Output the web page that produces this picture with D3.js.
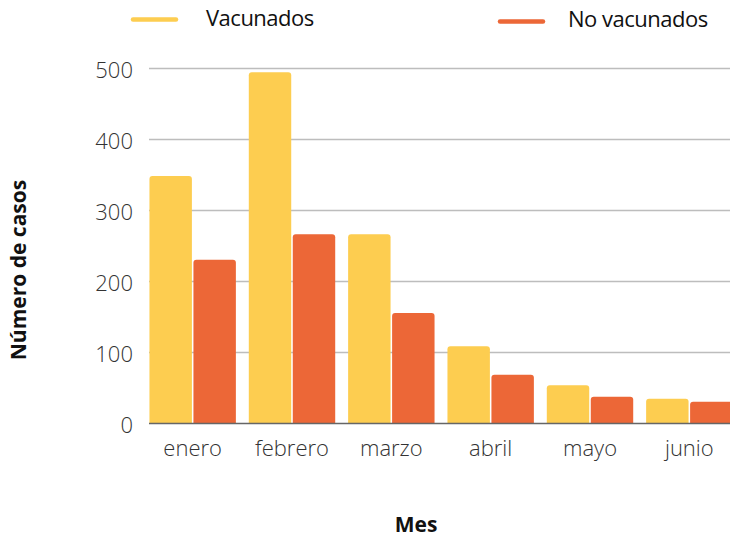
<!DOCTYPE html>
<html>
<head>
<meta charset="utf-8">
<script src="https://cdn.jsdelivr.net/npm/d3@7"></script>
<style>
  body { margin: 0; background: #fff; }
  text { font-family: "Open Sans", sans-serif; }
</style>
</head>
<body>
<div id="chart"></div>
<script>
// data
let months = ["enero", "febrero", "marzo", "abril", "mayo", "junio"];
let seriesNames = ["Vacunados", "No vacunados"];
let vacunados = [348, 494, 266, 108, 53, 34];
let noVacunados = [230, 266, 155, 68, 37, 30];
let yTicks = [0, 100, 200, 300, 400, 500];
let colors = ["#fdcd50", "#ec6737"];

let width = 730, height = 537;

let svg = d3.select("#chart").append("svg")
  .attr("width", width)
  .attr("height", height);

// scales
let x0 = d3.scaleBand()
  .domain(months)
  .range([143, 739])
  .paddingInner(0.13)
  .paddingOuter(0.065);

let x1 = d3.scaleBand()
  .domain(seriesNames)
  .range([0, x0.bandwidth()])
  .paddingInner(0.035);

let y = d3.scaleLinear()
  .domain([0, 500])
  .range([423, 68]);

// gridlines
svg.append("g")
  .selectAll("line")
  .data(yTicks.filter(d => d > 0))
  .enter().append("line")
  .attr("x1", 149)
  .attr("x2", width)
  .attr("y1", d => y(d) + 0.5)
  .attr("y2", d => y(d) + 0.5)
  .attr("stroke", "#bdbdbd")
  .attr("stroke-width", 1.3);

// y tick labels
svg.append("g")
  .selectAll("text")
  .data(yTicks)
  .enter().append("text")
  .attr("x", 133)
  .attr("y", d => y(d) + 10)
  .attr("text-anchor", "end")
  .attr("font-size", 22)
  .attr("font-weight", 300)
  .attr("fill", "#333")
  .text(d => d);

// rounded-top bar path
function barPath(x, yTop, w, h, r) {
  r = Math.min(r, h, w / 2);
  return "M" + x + "," + (yTop + h) +
    "V" + (yTop + r) +
    "Q" + x + "," + yTop + " " + (x + r) + "," + yTop +
    "H" + (x + w - r) +
    "Q" + (x + w) + "," + yTop + " " + (x + w) + "," + (yTop + r) +
    "V" + (yTop + h) + "Z";
}

let rows = months.map((m, i) => ({
  month: m,
  values: [vacunados[i], noVacunados[i]]
}));

let groups = svg.append("g")
  .selectAll("g")
  .data(rows)
  .enter().append("g")
  .attr("transform", d => "translate(" + x0(d.month) + ",0)");

groups.selectAll("path")
  .data(d => d.values.map((v, k) => ({ key: seriesNames[k], value: v, k: k })))
  .enter().append("path")
  .attr("d", d => barPath(x1(d.key), y(d.value), x1.bandwidth(), y(0) - y(d.value), 3))
  .attr("fill", d => colors[d.k]);

// baseline
svg.append("line")
  .attr("x1", 149)
  .attr("x2", width)
  .attr("y1", y(0) + 0.5)
  .attr("y2", y(0) + 0.5)
  .attr("stroke", "#666")
  .attr("stroke-width", 1.3);

// x labels
svg.append("g")
  .selectAll("text")
  .data(months)
  .enter().append("text")
  .attr("x", d => x0(d) + x0.bandwidth() / 2)
  .attr("y", 456)
  .attr("text-anchor", "middle")
  .attr("font-size", 22)
  .attr("font-weight", 300)
  .attr("fill", "#333")
  .text(d => d);

// axis titles
svg.append("text")
  .attr("transform", "translate(26,270) rotate(-90)")
  .attr("text-anchor", "middle")
  .attr("font-size", 21)
  .attr("font-weight", 700)
  .attr("fill", "#111")
  .text("Número de casos");

svg.append("text")
  .attr("x", 416)
  .attr("y", 532)
  .attr("text-anchor", "middle")
  .attr("font-size", 21)
  .attr("font-weight", 700)
  .attr("fill", "#111")
  .text("Mes");

// legend
let legendPos = [{ lx: 133, tx: 206, ly: 19.5, ty: 26 }, { lx: 500, tx: 568, ly: 21.5, ty: 27 }];
let legend = svg.append("g")
  .selectAll("g")
  .data(seriesNames)
  .enter().append("g");

legend.append("line")
  .attr("x1", (d, i) => legendPos[i].lx)
  .attr("x2", (d, i) => legendPos[i].lx + 43)
  .attr("y1", (d, i) => legendPos[i].ly)
  .attr("y2", (d, i) => legendPos[i].ly)
  .attr("stroke", (d, i) => colors[i])
  .attr("stroke-width", 4.5)
  .attr("stroke-linecap", "round");

legend.append("text")
  .attr("x", (d, i) => legendPos[i].tx)
  .attr("y", (d, i) => legendPos[i].ty)
  .attr("font-size", 22)
  .attr("letter-spacing", -0.5)
  .attr("font-weight", 400)
  .attr("fill", "#111")
  .text(d => d);
</script>
</body>
</html>
